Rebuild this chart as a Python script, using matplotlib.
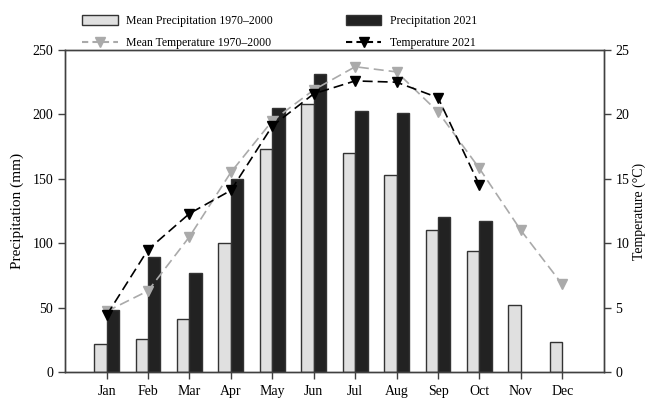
import numpy as np
import matplotlib.pyplot as plt
from matplotlib.lines import Line2D
from matplotlib.patches import Patch

plt.rcParams['font.family'] = ['Liberation Serif', 'DejaVu Serif']

months = ['Jan', 'Feb', 'Mar', 'Apr', 'May', 'Jun', 'Jul', 'Aug', 'Sep', 'Oct', 'Nov', 'Dec']
precip_mean = [22, 26, 41, 100, 173, 208, 170, 153, 110, 94, 52, 23]
precip_2021 = [48, 89, 77, 150, 205, 231, 203, 201, 120, 117, np.nan, np.nan]
temp_mean = [4.7, 6.3, 10.5, 15.5, 19.5, 21.9, 23.7, 23.3, 20.2, 15.8, 11.0, 6.8]
temp_2021 = [4.4, 9.5, 12.3, 14.1, 19.1, 21.6, 22.6, 22.5, 21.3, 14.5, np.nan, np.nan]

x = np.arange(1, 13)
w = 0.3
edge = '#333333'
light = '#e0e0e0'
dark = '#222222'
grey = '#aaaaaa'
dash = (0, (6, 3))

fig = plt.figure(figsize=(6.45, 4), dpi=100)
ax = fig.add_axes([0.101, 0.07, 0.835, 0.805])
ax.bar(x - w / 2, precip_mean, w, color=light, edgecolor=edge, linewidth=1, zorder=2)
ax.bar(x + w / 2, precip_2021, w, color=dark, edgecolor=edge, linewidth=1, zorder=2)
ax.set_xlim(0, 13)
ax.set_ylim(0, 250)
ax.set_xticks(x)
ax.set_xticklabels(months)
ax.set_yticks(range(0, 251, 50))
ax.set_ylabel('Precipitation (mm)', fontsize=11, labelpad=6)

ax2 = ax.twinx()
ax2.plot(x, temp_mean, color=grey, linestyle=dash, linewidth=1.2,
         marker='v', markersize=7.5, markerfacecolor=grey, markeredgecolor=grey, zorder=3)
ax2.plot(x, temp_2021, color='black', linestyle=dash, linewidth=1.2,
         marker='v', markersize=7.5, markerfacecolor='black', markeredgecolor='black', zorder=4)
ax2.set_ylim(0, 25)
ax2.set_yticks(range(0, 26, 5))
ax2.set_ylabel('Temperature (°C)', fontsize=10)
ax2.yaxis.set_label_coords(1.054, 0.5)

for a in (ax, ax2):
    for s in a.spines.values():
        s.set_color('#404040')
        s.set_linewidth(1)
    a.tick_params(direction='out', length=5, width=1, color='#404040', labelsize=10)
ax.tick_params(axis='x', pad=4.5)

handles = [
    Patch(facecolor=light, edgecolor=edge, linewidth=1),
    Line2D([], [], color=grey, linestyle=(0, (3, 2)), marker='v', markersize=7.5,
           markerfacecolor=grey, markeredgecolor=grey),
    Patch(facecolor=dark, edgecolor=edge, linewidth=1),
    Line2D([], [], color='black', linestyle=(0, (3, 2)), marker='v', markersize=7.5,
           markerfacecolor='black', markeredgecolor='black'),
]
labels = ['Mean Precipitation 1970–2000', 'Mean Temperature 1970–2000',
          'Precipitation 2021', 'Temperature 2021']
fig.legend(handles, labels, ncol=2, loc='upper left', bbox_to_anchor=(0.111, 0.99),
           frameon=False, fontsize=8.5, handlelength=3.0, handleheight=1.0,
           columnspacing=6.2, labelspacing=0.85, handletextpad=0.7)

fig.savefig('out.png', dpi=100)
